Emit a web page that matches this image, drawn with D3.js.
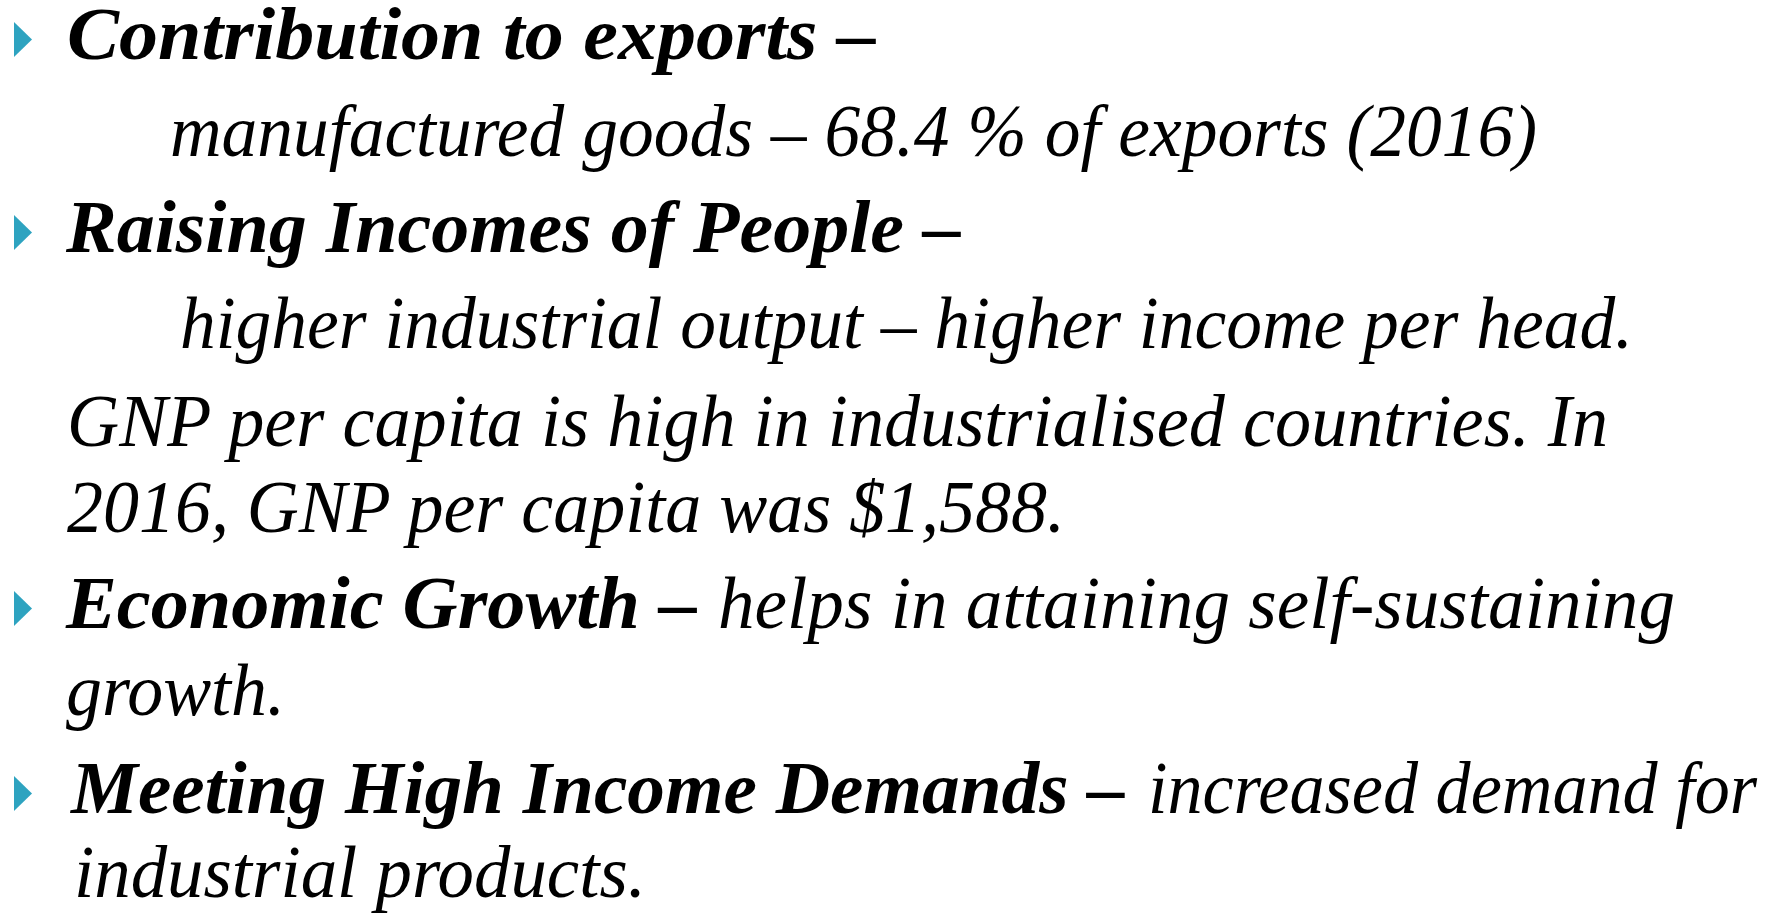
<!DOCTYPE html>
<html>
<head>
<meta charset="utf-8">
<script src="https://cdn.jsdelivr.net/npm/d3@7"></script>
<style>
  html, body { margin: 0; padding: 0; background: #ffffff; }
  svg { display: block; }
  text { font-family: "Liberation Serif", "Times New Roman", serif; font-style: italic; fill: #000; }
</style>
</head>
<body>
<svg id="slide" width="1777" height="917"></svg>
<script>
// ---- content ----
const headings = [
  "Contribution to exports \u2013",
  "Raising Incomes of People \u2013",
  "Economic Growth \u2013",
  "Meeting High Income Demands \u2013"
];
const subLines = [
  "manufactured goods \u2013 68.4 % of exports (2016)",
  "higher industrial output \u2013 higher income per head.",
  "GNP per capita is high in industrialised countries. In",
  "2016, GNP per capita was $1,588.",
  "helps in attaining self-sustaining",
  "growth.",
  "increased demand for",
  "industrial products."
];

// ---- layout (segments: text, bold flag, left, right, baseline) ----
const segs = [
  {t: headings[0], b: true,  x0: 67,  x1: 876,  y: 59},
  {t: subLines[0], b: false, x0: 170, x1: 1537, y: 156},
  {t: headings[1], b: true,  x0: 66,  x1: 961,  y: 252},
  {t: subLines[1], b: false, x0: 180, x1: 1633, y: 348},
  {t: subLines[2], b: false, x0: 67,  x1: 1608, y: 446},
  {t: subLines[3], b: false, x0: 67,  x1: 1065, y: 532},
  {t: headings[2], b: true,  x0: 66,  x1: 697,  y: 628},
  {t: subLines[4], b: false, x0: 718, x1: 1675, y: 628},
  {t: subLines[5], b: false, x0: 66,  x1: 285,  y: 715},
  {t: headings[3], b: true,  x0: 71,  x1: 1125, y: 813},
  {t: subLines[6], b: false, x0: 1148,x1: 1757, y: 813},
  {t: subLines[7], b: false, x0: 74,  x1: 646,  y: 897}
];
const bulletBaselines = [59, 252, 628, 813];

const svg = d3.select("#slide");

svg.selectAll("path.bullet")
  .data(bulletBaselines)
  .join("path")
  .attr("class", "bullet")
  .attr("d", b => `M14,${b - 37} L32,${b - 19.5} L14,${b - 2} Z`)
  .attr("fill", "#2EA3C0");

svg.selectAll("text.seg")
  .data(segs)
  .join("text")
  .attr("class", "seg")
  .attr("x", d => d.x0)
  .attr("y", d => d.y)
  .attr("font-size", 74)
  .attr("font-weight", d => d.b ? "bold" : "normal")
  .attr("textLength", d => d.x1 - d.x0)
  .attr("lengthAdjust", "spacingAndGlyphs")
  .text(d => d.t);
</script>
</body>
</html>
